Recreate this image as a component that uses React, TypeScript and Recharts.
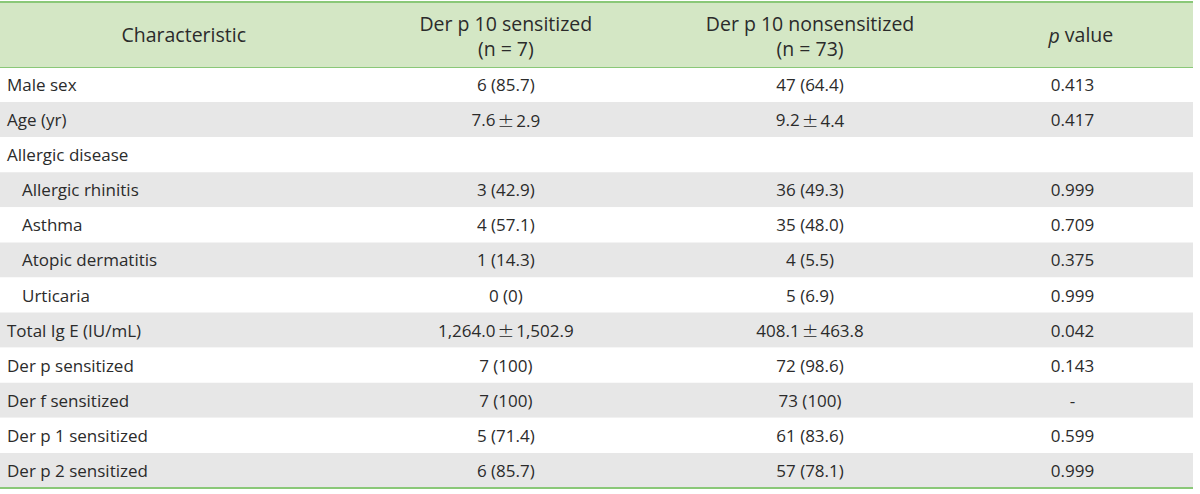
import React from 'react';
import { BarChart, Bar, XAxis, YAxis, Cell, LabelList } from 'recharts';

// ---- Data ----
const characteristics = [
  'Male sex',
  'Age (yr)',
  'Allergic disease',
  'Allergic rhinitis',
  'Asthma',
  'Atopic dermatitis',
  'Urticaria',
  'Total Ig E (IU/mL)',
  'Der p sensitized',
  'Der f sensitized',
  'Der p 1 sensitized',
  'Der p 2 sensitized',
];
const indentLevel = [0, 0, 0, 1, 1, 1, 1, 0, 0, 0, 0, 0];
const sensitized = [
  '6 (85.7)', '7.6 \u00b1 2.9', '', '3 (42.9)', '4 (57.1)', '1 (14.3)', '0 (0)',
  '1,264.0 \u00b1 1,502.9', '7 (100)', '7 (100)', '5 (71.4)', '6 (85.7)',
];
const nonsensitized = [
  '47 (64.4)', '9.2 \u00b1 4.4', '', '36 (49.3)', '35 (48.0)', '4 (5.5)', '5 (6.9)',
  '408.1 \u00b1 463.8', '72 (98.6)', '73 (100)', '61 (83.6)', '57 (78.1)',
];
const pValues = [
  '0.413', '0.417', '', '0.999', '0.709', '0.375', '0.999',
  '0.042', '0.143', '-', '0.599', '0.999',
];
const headerLines: string[][] = [
  ['Characteristic'],
  ['Der p 10 sensitized', '(n = 7)'],
  ['Der p 10 nonsensitized', '(n = 73)'],
  ['p value'],
];

// ---- Layout / style (not data) ----
const W = 1200;
const H = 494;
const TABLE_LEFT = 0;
const TABLE_RIGHT = 1193;
const HEADER_TOP = 2;
const HEADER_BOTTOM = 67;
const HEADER_POS = [15.4, 42.4, 67.9, 90.6];
const CELL_POS = [42.4, 67.9, 89.9];
const GREEN_LINE = '#8ac878';
const HEADER_BG = '#d4e7c5';
const ROW_GRAY = '#e7e7e7';
const TEXT = '#2b2b2b';
const FONT = '"Open Sans", "Noto Sans", sans-serif';

const rows = characteristics.map((c, i) => ({
  label: c,
  s: sensitized[i],
  n: nonsensitized[i],
  p: pValues[i],
  span: 100,
}));

const renderHeaderTick = (props: any) => {
  const { x, index } = props;
  const lines = headerLines[index] || [];
  const els: React.ReactNode[] = [];
  if (index === 0) {
    els.push(
      <rect key="bg" x={TABLE_LEFT} y={HEADER_TOP} width={TABLE_RIGHT - TABLE_LEFT} height={HEADER_BOTTOM - HEADER_TOP} fill={HEADER_BG} />,
      <line key="top" x1={TABLE_LEFT} x2={TABLE_RIGHT} y1={HEADER_TOP} y2={HEADER_TOP} stroke={GREEN_LINE} strokeWidth={2} />
    );
  }
  const mid = (HEADER_TOP + HEADER_BOTTOM) / 2;
  lines.forEach((ln, i) => {
    const yy = lines.length === 1 ? mid : mid - 11 + i * 24.5;
    const isP = ln === 'p value';
    els.push(
      <text key={'t' + i} x={x} y={yy} textAnchor="middle" dominantBaseline="central"
        fontFamily={FONT} fontSize={19.5} fill={TEXT}>
        {isP ? (<><tspan fontStyle="italic">p</tspan> value</>) : ln}
      </text>
    );
  });
  return <g key={'h' + index}>{els}</g>;
};

const renderValue = (value: string) => {
  if (value.indexOf('\u00b1') < 0) return value;
  const [a, b] = value.split('\u00b1');
  return (
    <>
      {a.trim()}
      <tspan dx={2} fontSize={20} fontFamily='"DejaVu Sans", sans-serif' fontWeight={300}>{'\u00b1'}</tspan>
      <tspan dx={2}>{b.trim()}</tspan>
    </>
  );
};

const makeCell = (pos: number | null) => (props: any) => {
  const vb = props.viewBox || props;
  const { x, y, width, height } = vb;
  const value = props.value;
  if (value === undefined || value === null || value === '') return null;
  let tx: number;
  let anchor: 'start' | 'middle' = 'middle';
  if (pos === null) {
    const idx = characteristics.indexOf(String(value));
    tx = x + 7 + (idx >= 0 ? indentLevel[idx] : 0) * 15;
    anchor = 'start';
  } else {
    tx = x + (width * pos) / 100;
  }
  return (
    <text x={tx} y={y + height / 2} textAnchor={anchor} dominantBaseline="central"
      fontFamily={FONT} fontSize={17} fill={TEXT}>
      {pos === null ? value : renderValue(String(value))}
    </text>
  );
};

export default function App() {
  return (
    <div style={{ position: 'absolute', left: 0, top: 0, background: '#fff' }}>
      <BarChart
        width={W}
        height={H}
        data={rows}
        layout="vertical"
        barCategoryGap={0}
        barGap={0}
        margin={{ top: HEADER_TOP, right: W - TABLE_RIGHT, bottom: 5, left: TABLE_LEFT }}
      >
        <XAxis
          xAxisId="top"
          orientation="top"
          type="number"
          domain={[0, 100]}
          ticks={HEADER_POS}
          height={HEADER_BOTTOM - HEADER_TOP}
          interval={0}
          tickLine={false}
          axisLine={{ stroke: GREEN_LINE, strokeWidth: 2 }}
          tick={renderHeaderTick}
        />
        <XAxis
          xAxisId="bottom"
          orientation="bottom"
          type="number"
          domain={[0, 100]}
          height={1}
          tick={false}
          tickLine={false}
          axisLine={{ stroke: GREEN_LINE, strokeWidth: 2 }}
        />
        <YAxis type="category" dataKey="label" hide />
        <Bar dataKey="span" xAxisId="top" isAnimationActive={false}>
          {rows.map((r, i) => (
            <Cell key={r.label} fill={i % 2 === 1 ? ROW_GRAY : '#ffffff'} />
          ))}
          <LabelList dataKey="label" content={makeCell(null)} />
          <LabelList dataKey="s" content={makeCell(CELL_POS[0])} />
          <LabelList dataKey="n" content={makeCell(CELL_POS[1])} />
          <LabelList dataKey="p" content={makeCell(CELL_POS[2])} />
        </Bar>
      </BarChart>
    </div>
  );
}
